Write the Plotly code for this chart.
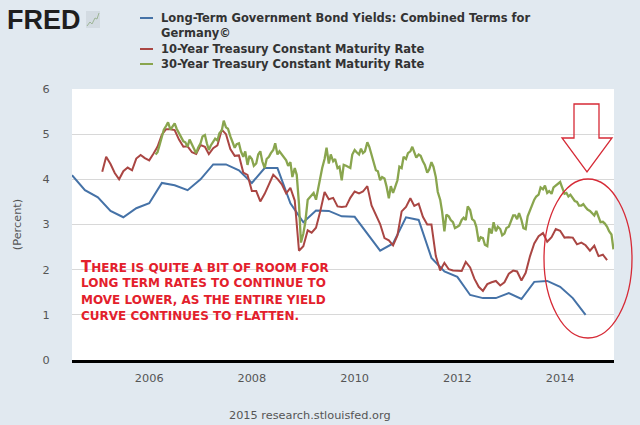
import pandas as pd
import plotly.graph_objects as go

# ---------------- data ----------------
names = [
    "Long-Term Government Bond Yields: Combined Terms for",
    "Germany©",
    "10-Year Treasury Constant Maturity Rate",
    "30-Year Treasury Constant Maturity Rate",
]

# Germany, quarterly from 2004-07-01
germany_start = "2004-07-01"
germany = [
    4.09, 3.76,
    3.60, 3.30, 3.16, 3.36,
    3.47, 3.92, 3.87, 3.76,
    4.00, 4.33, 4.33, 4.20,
    3.92, 4.25, 4.25, 3.47,
    3.05, 3.31, 3.30, 3.18,
    3.17, 2.80, 2.42, 2.58,
    3.16, 3.10, 2.26, 1.96,
    1.84, 1.44, 1.37, 1.37,
    1.48, 1.35, 1.73, 1.75,
    1.62, 1.37, 1.00,
]

# 10-year, monthly from 2005-02-01
t10_start = "2005-02-01"
t10 = [
    4.17, 4.50, 4.34, 4.14, 4.00, 4.18, 4.26, 4.20, 4.46, 4.54, 4.47,
    4.42, 4.57, 4.72, 4.99, 5.11, 5.11, 5.09, 4.88, 4.72, 4.73, 4.60, 4.56,
    4.76, 4.72, 4.56, 4.69, 4.75, 5.10, 5.00, 4.67, 4.52, 4.53, 4.15, 4.10,
    3.74, 3.74, 3.51, 3.68, 3.88, 4.10, 4.01, 3.89, 3.69, 3.81, 3.53, 2.42,
    2.52, 2.87, 2.82, 2.93, 3.29, 3.72, 3.56, 3.59, 3.40, 3.39, 3.40, 3.59,
    3.73, 3.69, 3.73, 3.85, 3.42, 3.20, 3.01, 2.70, 2.65, 2.54, 2.76, 3.29,
    3.39, 3.58, 3.41, 3.46, 3.17, 3.00, 3.00, 2.30, 1.98, 2.15, 2.01, 1.98,
    1.97, 1.97, 2.17, 2.05, 1.80, 1.62, 1.53, 1.68, 1.72, 1.75, 1.65, 1.72,
    1.91, 1.98, 1.96, 1.76, 1.93, 2.30, 2.58, 2.74, 2.81, 2.62, 2.72, 2.90,
    2.86, 2.71, 2.72, 2.71, 2.56, 2.60, 2.54, 2.42, 2.53, 2.30, 2.33, 2.21,
]

# 30-year, semi-monthly (1st / 15th) from 2006-02-15 to 2015-01-15
t30_start, t30_end = "2006-02-15", "2015-01-15"
t30 = [
    4.55, 4.60, 4.75, 4.92, 5.10, 5.18, 5.26, 5.10, 5.18, 5.24, 5.12,
    5.02, 4.95, 4.84, 4.82, 4.72, 4.88, 4.76, 4.66, 4.58, 4.70,
    4.80, 4.95, 4.98, 4.80, 4.65, 4.75, 4.85, 4.90, 4.86, 5.02, 5.08, 5.30,
    5.15, 5.12, 4.95, 4.85, 4.70, 4.78, 4.80, 4.62, 4.50, 4.62, 4.32, 4.52,
    4.45, 4.30, 4.35, 4.55, 4.62, 4.40, 4.25, 4.45, 4.50, 4.58, 4.65, 4.80,
    4.55, 4.62, 4.55, 4.48, 4.42, 4.30, 4.38, 4.05, 4.25, 4.10, 3.45, 2.60,
    2.80, 3.05, 3.55, 3.60, 3.65, 3.70, 3.55, 3.78, 4.05, 4.25, 4.45, 4.70,
    4.35, 4.55, 4.40, 4.45, 4.25, 4.28, 3.98, 4.32, 4.30, 4.28, 4.25, 4.55,
    4.65, 4.60, 4.55, 4.68, 4.58, 4.62, 4.82, 4.72, 4.55, 4.38, 4.20, 4.18,
    3.98, 4.05, 4.02, 3.85, 3.58, 3.85, 3.70, 3.82, 3.98, 4.28, 4.25, 4.50,
    4.45, 4.58, 4.62, 4.72, 4.58, 4.48, 4.55, 4.52, 4.40, 4.32, 4.15, 4.22,
    4.38, 4.28, 4.05, 3.72, 3.55, 3.28, 2.85, 3.22, 3.18, 3.10, 3.05, 2.92,
    2.95, 2.98, 3.10, 3.15, 3.10, 3.40, 3.32, 3.12, 3.08, 2.95, 2.62, 2.72,
    2.70, 2.55, 2.52, 2.92, 2.80, 3.05, 2.85, 2.95, 2.90, 2.76, 2.80, 2.92,
    2.95, 3.05, 3.20, 3.20, 3.12, 3.25, 3.10, 2.92, 2.90, 3.18, 3.32, 3.42,
    3.55, 3.62, 3.66, 3.82, 3.78, 3.86, 3.70, 3.74, 3.68, 3.82, 3.86, 3.88,
    3.94, 3.82, 3.68, 3.70, 3.62, 3.66, 3.58, 3.52, 3.50, 3.42, 3.42, 3.45,
    3.38, 3.33, 3.30, 3.26, 3.20, 3.30, 3.15, 3.05, 3.06, 3.02, 2.95, 2.85,
    2.78, 2.45,
]

x_range = ["2004-07-01", "2015-01-19"]
y_ticks = [0, 1, 2, 3, 4, 5, 6]
note_lines = [
    "<span style='font-size:15px'>T</span>HERE IS QUITE A BIT OF ROOM FOR",
    "LONG TERM RATES TO CONTINUE TO",
    "MOVE LOWER, AS THE ENTIRE YIELD",
    "CURVE CONTINUES TO FLATTEN.",
]
footer = "2015 research.stlouisfed.org"
y_title = "(Percent)"

colors = ["#4572A7", "#AA4643", "#89A54E"]

# ---------------- figure ----------------
W, H = 640, 425
L, R, T, B = 72, 614, 89, 360


def px(x, y):
    return (x - L) / (R - L), (B - y) / (B - T)


germany_x = pd.date_range(germany_start, periods=len(germany), freq="QS")
t10_x = pd.date_range(t10_start, periods=len(t10), freq="MS")
t30_x = pd.date_range(t30_start, t30_end, freq="SMS")

fig = go.Figure()
fig.add_trace(go.Scatter(x=germany_x, y=germany, mode="lines",
                         line=dict(color=colors[0], width=2), name=names[0] + " " + names[1]))
fig.add_trace(go.Scatter(x=t10_x, y=t10, mode="lines",
                         line=dict(color=colors[1], width=2), name=names[2]))
fig.add_trace(go.Scatter(x=t30_x[:len(t30)], y=t30, mode="lines",
                         line=dict(color=colors[2], width=2.3), name=names[3]))

font_family = "DejaVu Sans"
fig.update_layout(
    width=W, height=H,
    margin=dict(l=L, r=W - R, t=T, b=H - B, pad=0),
    paper_bgcolor="#E1E9F0",
    plot_bgcolor="#FFFFFF",
    showlegend=False,
    font=dict(family=font_family, size=11.3, color="#555555"),
    xaxis=dict(
        type="date", range=x_range, showgrid=False, zeroline=False,
        showline=True, linecolor="#000000", linewidth=3,
        tick0="2006-01-01", dtick="M24", tickformat="%Y",
        ticks="outside", ticklen=5, tickcolor="rgba(0,0,0,0)",
        tickfont=dict(size=11.3, color="#555555"),
    ),
    yaxis=dict(
        range=[0, 6], tickvals=y_ticks, showgrid=True, gridcolor="#D8D8D8",
        gridwidth=1, zeroline=False, showline=False,
        ticks="outside", ticklen=19, tickcolor="rgba(0,0,0,0)",
        tickfont=dict(size=11.3, color="#555555"),
        title=dict(text=y_title, font=dict(size=11.3, color="#555555"), standoff=18),
    ),
)

annotations = []
shapes = []

# FRED logo
fx, fy = px(5, 19.5)
annotations.append(dict(xref="paper", yref="paper", x=fx, y=fy, xanchor="left", yanchor="middle",
                        text="<b>FRED</b>", showarrow=False,
                        font=dict(family="Liberation Sans", size=27, color="#1E1E1E")))
ix0, iy0 = px(86, 28)
ix1, iy1 = px(100, 11)
shapes.append(dict(type="rect", xref="paper", yref="paper", x0=ix0, y0=iy0, x1=ix1, y1=iy1,
                   fillcolor="#D3DBE2", line=dict(width=0), layer="above"))
pts = [(87, 26), (90, 22), (92, 24), (95, 18), (97, 19), (99, 13)]
path = "M " + " L ".join(f"{px(a, b)[0]:.5f},{px(a, b)[1]:.5f}" for a, b in pts)
shapes.append(dict(type="path", xref="paper", yref="paper", path=path,
                   line=dict(color="#9DB596", width=1), layer="above"))

# legend (manual)
leg_rows = [(18, colors[0], names[0]), (33, None, names[1]), (49, colors[1], names[2]), (64, colors[2], names[3])]
for yy, col, txt in leg_rows:
    if col:
        a0, b0 = px(140, yy)
        a1, _ = px(153, yy)
        shapes.append(dict(type="line", xref="paper", yref="paper", x0=a0, x1=a1, y0=b0, y1=b0,
                           line=dict(color=col, width=2), layer="above"))
    tx, ty = px(159, yy)
    annotations.append(dict(xref="paper", yref="paper", x=tx, y=ty, xanchor="left", yanchor="middle",
                            text="<b>" + txt + "</b>", showarrow=False,
                            font=dict(family=font_family, size=11.5, color="#333333")))

# note text
for i, (yy, line) in enumerate(zip([267, 283.3, 299.6, 316], note_lines)):
    tx, ty = px(79, yy)
    annotations.append(dict(xref="paper", yref="paper", x=tx, y=ty, xanchor="left", yanchor="middle",
                            text="<b>" + line + "</b>", showarrow=False,
                            font=dict(family=font_family, size=12, color="#E3202C")))

# footer
tx, ty = px(310, 415)
annotations.append(dict(xref="paper", yref="paper", x=tx, y=ty, xanchor="center", yanchor="middle",
                        text=footer, showarrow=False,
                        font=dict(family=font_family, size=11.3, color="#555555")))

# ellipse
e0x, e0y = px(544, 338)
e1x, e1y = px(632, 179)
shapes.append(dict(type="circle", xref="paper", yref="paper", x0=e0x, y0=e0y, x1=e1x, y1=e1y,
                   line=dict(color="#D62A36", width=1.3), layer="above"))

# hollow arrow
arrow = [(574, 104), (599, 104), (599, 138), (612, 138), (587, 172), (562, 138), (574, 138)]
path = "M " + " L ".join(f"{px(a, b)[0]:.5f},{px(a, b)[1]:.5f}" for a, b in arrow) + " Z"
shapes.append(dict(type="path", xref="paper", yref="paper", path=path,
                   line=dict(color="#D62A36", width=1.3), fillcolor="rgba(0,0,0,0)", layer="above"))

fig.update_layout(annotations=annotations, shapes=shapes)
fig.write_html("out.html",
               config={"displayModeBar": False},
               post_script="document.body.style.margin='0';document.body.style.background='#E1E9F0';")
